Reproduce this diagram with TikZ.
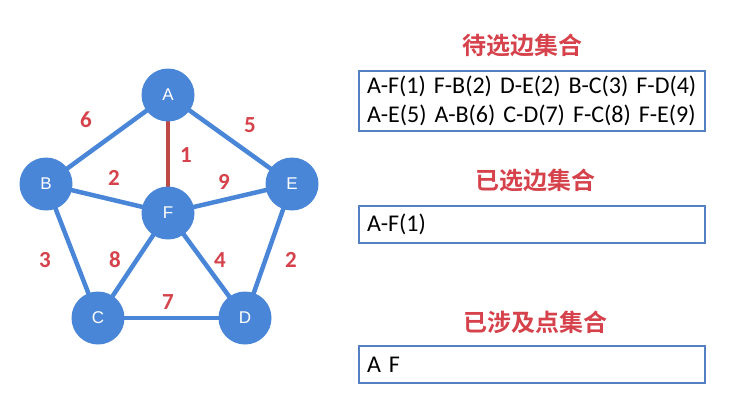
\documentclass[tikz,border=0pt]{standalone}
\usepackage{fontspec}
\setmainfont{Carlito}
\newfontfamily\cjkfont{Noto Sans CJK SC}[BoldFont={Noto Sans CJK SC Bold}]
\newfontfamily\vertfont{Liberation Sans}
\usetikzlibrary{positioning}
\definecolor{nodeblue}{RGB}{74,134,216}
\definecolor{boxblue}{RGB}{84,128,196}
\definecolor{wtred}{RGB}{214,66,76}
\definecolor{pickred}{RGB}{190,74,70}

\begin{document}
\begin{tikzpicture}[x=1pt,y=-1pt,
  vert/.style={circle,fill=nodeblue,minimum size=53pt,inner sep=0pt,text=white,font=\fontsize{17}{17}\vertfont},
  edge/.style={nodeblue,line width=4.5pt},
  picked/.style={pickred,line width=4.5pt},
  wt/.style={text=wtred,font=\fontsize{23}{23}\selectfont\bfseries},
  settitle/.style={text=wtred,font=\fontsize{24}{24}\selectfont\cjkfont\bfseries},
  setbox/.style={draw=boxblue,line width=2.2pt,anchor=north west,align=left,inner xsep=8pt,
    text width=330pt,font=\fontsize{24}{29}\selectfont}]
\useasboundingbox (0,0) rectangle (742,418);

% graph
\draw[edge] (168,95) -- (46,184);
\draw[edge] (168,95) -- (292,184);
\draw[edge] (46,184) -- (168,213);
\draw[edge] (292,184) -- (168,213);
\draw[edge] (46,184) -- (98,318);
\draw[edge] (292,184) -- (245,318);
\draw[edge] (168,213) -- (98,318);
\draw[edge] (168,213) -- (245,318);
\draw[edge] (98,318) -- (245,318);
\draw[picked] (168,95) -- (168,213);

\node[vert] (A) at (168,95) {A};
\node[vert] (B) at (46,184) {B};
\node[vert] (E) at (292,184) {E};
\node[vert] (F) at (168,213) {F};
\node[vert] (C) at (98,318) {C};
\node[vert] (D) at (245,318) {D};

\node[wt] (wAB) at (86,120) {6};
\node[wt] (wAE) at (250,125) {5};
\node[wt] (wAF) at (186,155) {1};
\node[wt] (wBF) at (114,178) {2};
\node[wt] (wEF) at (224,182) {9};
\node[wt] (wBC) at (45,260) {3};
\node[wt] (wCF) at (115,260) {8};
\node[wt] (wDF) at (220,260) {4};
\node[wt] (wDE) at (291,260) {2};
\node[wt] (wCD) at (168,302) {7};

% sets
\node[settitle] (t1) at (522,45) {待选边集合};
\node[setbox,minimum height=60pt] (pend) at (358,70) {A-F(1) F-B(2) D-E(2) B-C(3) F-D(4)\\A-E(5) A-B(6) C-D(7) F-C(8) F-E(9)};

\node[settitle] (t2) at (535,180) {已选边集合};
\node[setbox,minimum height=37pt] (chosen) at (358,205) {A-F(1)};

\node[settitle] (t3) at (535,322) {已涉及点集合};
\node[setbox,minimum height=37pt] (seen) at (358,345) {A F};
\end{tikzpicture}
\end{document}
